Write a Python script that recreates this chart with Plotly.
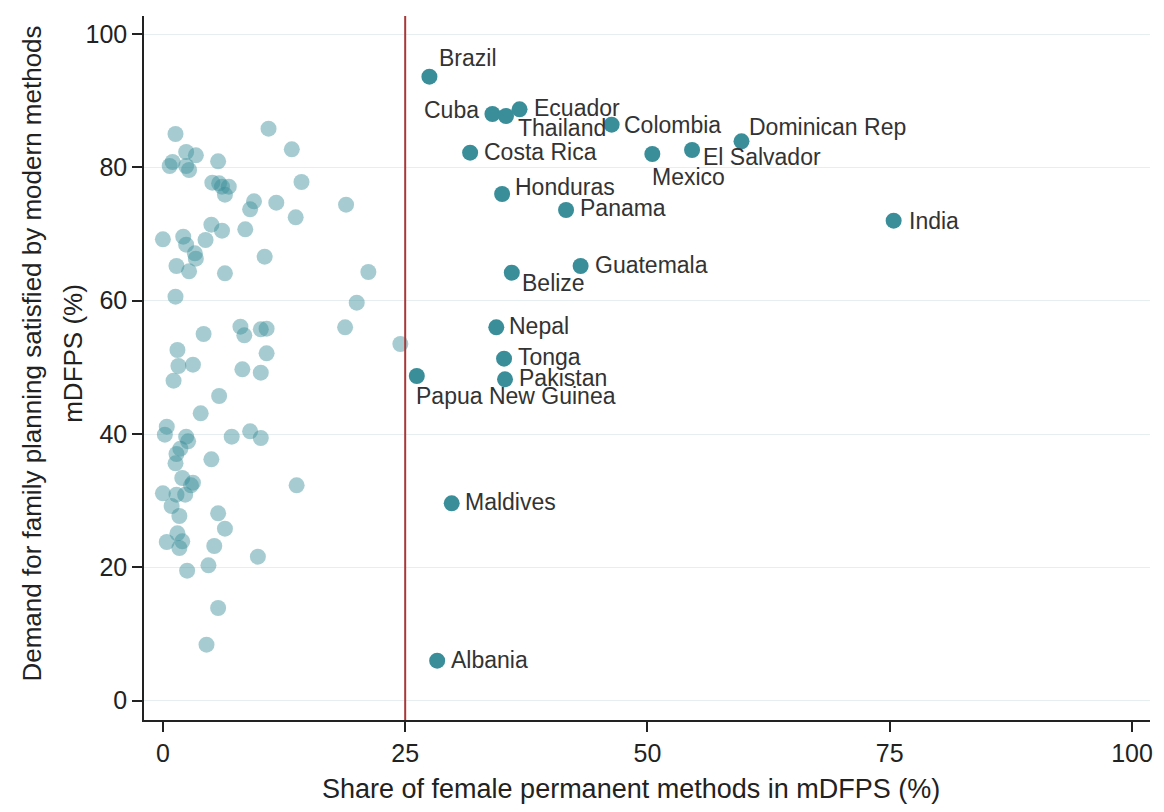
import plotly.graph_objects as go

# Countries with a share of female permanent methods above the 25% threshold
countries = [
    "Brazil", "Cuba", "Thailand", "Ecuador", "Colombia", "Dominican Rep",
    "Costa Rica", "Mexico", "El Salvador", "Honduras", "Panama", "India",
    "Guatemala", "Belize", "Nepal", "Tonga", "Pakistan", "Papua New Guinea",
    "Maldives", "Albania",
]
share_fpm = [
    27.5, 34.0, 35.4, 36.8, 46.3, 59.7,
    31.7, 50.5, 54.6, 35.0, 41.6, 75.4,
    43.1, 36.0, 34.4, 35.2, 35.3, 26.2,
    29.8, 28.3,
]
mdfps = [
    93.6, 88.0, 87.7, 88.7, 86.4, 83.9,
    82.2, 82.0, 82.6, 76.0, 73.6, 72.0,
    65.2, 64.2, 56.0, 51.3, 48.2, 48.7,
    29.6, 6.0,
]

# Remaining countries (share below the threshold)
other_share = [
    1.3, 10.9, 13.3, 2.4, 3.4, 1.0, 0.7, 2.4, 2.7, 5.7,
    14.3, 5.1, 5.8, 6.1, 6.8, 6.4, 9.4, 11.7, 9.0, 13.7,
    5.0, 6.1, 8.5, 0.0, 2.1, 2.4, 4.4, 3.3, 3.4, 1.4,
    2.7, 10.5, 6.4, 1.3, 18.9, 21.2, 20.0, 18.8, 24.5, 4.2,
    8.0, 8.4, 10.1, 10.7, 10.7, 1.5, 1.6, 3.1, 1.1, 8.2,
    10.1, 5.8, 3.9, 0.4, 0.2, 7.1, 9.0, 10.1, 2.4, 2.6,
    1.8, 1.4, 1.3, 5.0, 2.0, 3.1, 2.9, 0.0, 1.4, 2.3,
    13.8, 0.9, 1.7, 5.7, 6.4, 1.5, 0.4, 2.0, 1.7, 5.3,
    9.8, 2.5, 4.7, 5.7, 4.5,
]
other_mdfps = [
    85.0, 85.8, 82.7, 82.3, 81.8, 80.8, 80.2, 80.2, 79.6, 80.9,
    77.8, 77.7, 77.6, 77.1, 77.1, 75.9, 74.9, 74.7, 73.7, 72.5,
    71.4, 70.5, 70.7, 69.2, 69.6, 68.4, 69.1, 67.1, 66.3, 65.2,
    64.4, 66.6, 64.1, 60.6, 74.4, 64.3, 59.7, 56.0, 53.5, 55.0,
    56.1, 54.8, 55.7, 55.8, 52.1, 52.6, 50.2, 50.4, 48.0, 49.7,
    49.2, 45.7, 43.1, 41.1, 39.9, 39.6, 40.4, 39.4, 39.6, 38.9,
    37.8, 37.0, 35.6, 36.2, 33.4, 32.7, 32.3, 31.1, 30.9, 30.9,
    32.3, 29.2, 27.7, 28.1, 25.8, 25.1, 23.8, 23.9, 22.9, 23.2,
    21.6, 19.5, 20.3, 13.9, 8.4,
]

threshold = 25
x_ticks = [0, 25, 50, 75, 100]
y_ticks = [0, 20, 40, 60, 80, 100]

x_title = "Share of female permanent methods in mDFPS (%)"
y_title_lines = ["Demand for family planning satisfied by modern methods", "mDFPS (%)"]

TEAL = "#3a8e9a"
FONT = "Liberation Sans, Arial, sans-serif"

# label placement: (anchor, x offset px, y offset px)
label_pos = {
    "Brazil": ("left", 8, 19),
    "Cuba": ("right", -11, 4),
    "Thailand": ("left", 10, -12),
    "Ecuador": ("left", 12, 1),
    "Colombia": ("left", 10, 0),
    "Dominican Rep": ("left", 6, 14),
    "Costa Rica": ("left", 12, 1),
    "Mexico": ("left", -2, -23),
    "El Salvador": ("left", 9, -7),
    "Honduras": ("left", 11, 7),
    "Panama": ("left", 12, 2),
    "India": ("left", 13, 0),
    "Guatemala": ("left", 12, 1),
    "Belize": ("left", 8, -10),
    "Nepal": ("left", 11, 1),
    "Tonga": ("left", 12, 2),
    "Pakistan": ("left", 12, 1),
    "Papua New Guinea": ("left", -3, -20),
    "Maldives": ("left", 11, 1),
    "Albania": ("left", 12, 1),
}

fig = go.Figure()

fig.add_trace(go.Scatter(
    x=other_share, y=other_mdfps, mode="markers",
    marker=dict(size=16, color=TEAL, opacity=0.45, line=dict(width=0)),
    hoverinfo="x+y", showlegend=False,
))
fig.add_trace(go.Scatter(
    x=share_fpm, y=mdfps, mode="markers", text=countries,
    marker=dict(size=16, color=TEAL, line=dict(width=0)),
    hoverinfo="text+x+y", showlegend=False,
))

annotations = []
for name, xv, yv in zip(countries, share_fpm, mdfps):
    anchor, dx, dy = label_pos[name]
    annotations.append(dict(
        x=xv, y=yv, xref="x", yref="y", text=name, showarrow=False,
        xanchor=anchor, yanchor="middle", xshift=dx, yshift=dy,
        font=dict(family=FONT, size=23, color="#333333"),
    ))

# axis titles
annotations.append(dict(
    x=0.484, y=-0.098, xref="paper", yref="paper", showarrow=False,
    text=x_title, xanchor="center", yanchor="middle",
    font=dict(family=FONT, size=27, color="#222222"),
))
for line, xpos in zip(y_title_lines, [-0.111, -0.070]):
    annotations.append(dict(
        x=xpos, y=0.521, xref="paper", yref="paper", showarrow=False,
        text=line, textangle=-90, xanchor="center", yanchor="middle",
        font=dict(family=FONT, size=26, color="#222222"),
    ))

fig.add_shape(
    type="line", x0=threshold, x1=threshold, y0=0, y1=1,
    xref="x", yref="paper", line=dict(color="#a83838", width=2),
)

fig.update_layout(
    width=1164, height=812,
    margin=dict(l=144, r=11, t=16, b=92),
    paper_bgcolor="white", plot_bgcolor="white",
    annotations=annotations,
    font=dict(family=FONT, color="#222222"),
)
fig.update_xaxes(
    range=[-1.95, 101.85], tickvals=x_ticks, showgrid=False, zeroline=False,
    showline=True, linecolor="#222222", linewidth=1.5,
    ticks="outside", ticklen=10, tickwidth=1.5, tickcolor="#222222",
    tickfont=dict(family=FONT, size=25, color="#222222"),
)
fig.update_yaxes(
    range=[-2.9, 102.7], tickvals=y_ticks, showgrid=True,
    gridcolor="#e6eef0", gridwidth=1, zeroline=False,
    showline=True, linecolor="#222222", linewidth=1.5,
    ticks="outside", ticklen=10, tickwidth=1.5, tickcolor="#222222",
    tickfont=dict(family=FONT, size=25, color="#222222"),
)

fig.write_html("out.html")
